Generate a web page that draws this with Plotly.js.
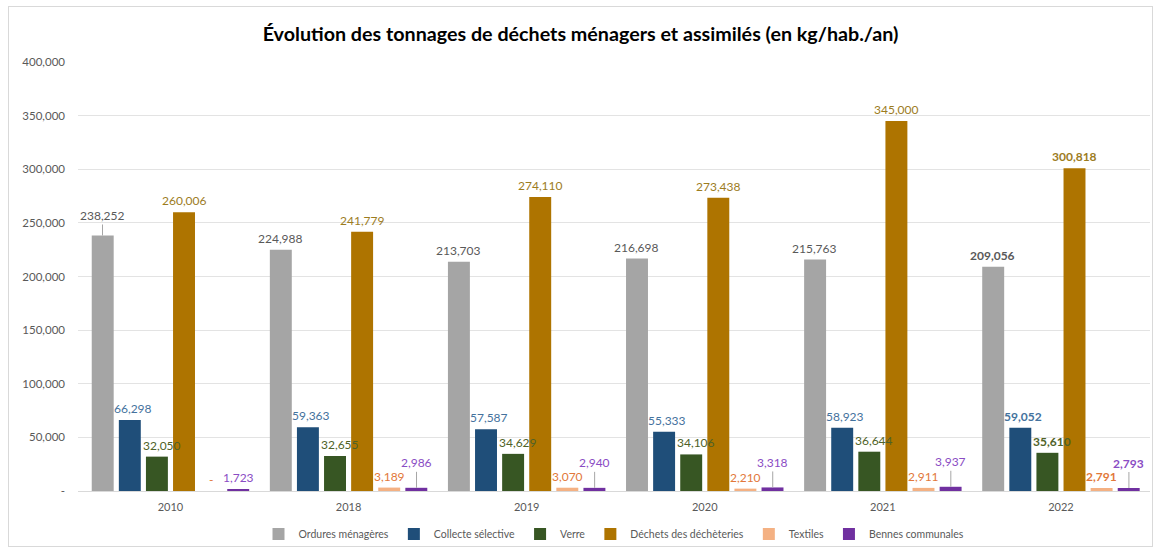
<!DOCTYPE html>
<html lang="fr">
<head>
    <meta charset="UTF-8">
    <title>Évolution des tonnages de déchets ménagers et assimilés</title>
    <script src="https://cdn.plot.ly/plotly-3.0.1.min.js"></script>
    <style>
        body { margin: 0; background: #ffffff; }
        #cadre {
            position: absolute;
            left: 8px;
            top: 6px;
            width: 1143px;
            height: 539px;
            border: 1px solid #d9d9d9;
        }
        #graph { width: 1143px; height: 539px; }
    </style>
</head>
<body>
    <div id="cadre"><div id="graph"></div></div>

    <script>
        // Données
        const annees = ['2010', '2018', '2019', '2020', '2021', '2022'];
        const ordures = [238252, 224988, 213703, 216698, 215763, 209056];
        const collecte = [66298, 59363, 57587, 55333, 58923, 59052];
        const verre = [32050, 32655, 34629, 34106, 36644, 35610];
        const decheteries = [260006, 241779, 274110, 273438, 345000, 300818];
        const textiles = [0, 3189, 3070, 2210, 2911, 2791];
        const bennes = [1723, 2986, 2940, 3318, 3937, 2793];

        const nomsSeries = ['Ordures ménagères', 'Collecte sélective', 'Verre',
            'Déchets des déchèteries', 'Textiles', 'Bennes communales'];
        const valeursSeries = [ordures, collecte, verre, decheteries, textiles, bennes];
        const couleursBarres = ['#a5a5a5', '#1f4e79', '#375623', '#ae7400', '#f4b183', '#7030a0'];
        const couleursEtiquettes = ['#595959', '#44729d', '#4f6228', '#9c7c1e', '#e2783a', '#8a4cc4'];

        const yTicks = [0, 50000, 100000, 150000, 200000, 250000, 300000, 350000, 400000];
        const yTickText = ['-', '50,000', '100,000', '150,000', '200,000', '250,000', '300,000', '350,000', '400,000'];

        const police = 'Lato, "Open Sans", sans-serif';
        const largeur = 1143, hauteur = 539;
        const marge = { l: 69, r: 2, t: 55, b: 55 };
        const bargap = 0.087;

        const traces = nomsSeries.map((nom, i) => ({
            type: 'bar',
            name: nom,
            x: annees,
            y: valeursSeries[i],
            marker: { color: couleursBarres[i] },
            hoverinfo: 'x+y+name'
        }));

        // décalage horizontal de chaque série dans un groupe (en pixels)
        const largeurCat = (largeur - marge.l - marge.r) / annees.length;
        const pas = largeurCat * (1 - bargap) / nomsSeries.length;

        const annotations = [];
        valeursSeries.forEach((vals, i) => {
            vals.forEach((v, j) => {
                let txt = v === 0 ? '-' : v.toLocaleString('en-US');
                if (j === annees.length - 1) txt = '<b>' + txt + '</b>';
                const avecRepere = (i === 5 && j > 0) || (i === 0 && j === 0);
                const dx = i === 2 ? 5 : (i === 1 ? 3 : 0);
                const a = {
                    x: j,   // indice de catégorie
                    y: v,
                    text: txt,
                    xshift: (i - 2.5) * pas + dx,
                    font: { family: police, size: 12, color: couleursEtiquettes[i] }
                };
                if (avecRepere) {
                    Object.assign(a, {
                        showarrow: true, arrowhead: 0, arrowwidth: 1,
                        arrowcolor: '#a6a6a6', ax: 0, ay: i === 0 ? -20 : -25
                    });
                } else {
                    Object.assign(a, { showarrow: false, yanchor: 'bottom', yshift: 2 });
                }
                annotations.push(a);
            });
        });

        const layout = {
            width: largeur,
            height: hauteur,
            margin: marge,
            paper_bgcolor: '#ffffff',
            plot_bgcolor: '#ffffff',
            font: { family: police, color: '#595959', size: 11 },
            title: {
                text: '<b>Évolution des tonnages de déchets ménagers et assimilés (en kg/hab./an)</b>',
                font: { family: police, size: 19.7, color: '#000000' },
                x: 0.5,
                xanchor: 'center',
                yref: 'container',
                y: 1 - 27 / hauteur,
                yanchor: 'middle'
            },
            barmode: 'group',
            bargap: bargap,
            bargroupgap: 0.19,
            xaxis: {
                type: 'category',
                showgrid: false,
                showline: true,
                linecolor: '#d9d9d9',
                ticks: '',
                ticklabelstandoff: 6,
                tickfont: { size: 11, color: '#595959' }
            },
            yaxis: {
                range: [0, 400000],
                tickvals: yTicks,
                ticktext: yTickText,
                gridcolor: '#e3e3e3',
                zeroline: false,
                ticklabelstandoff: 12,
                tickfont: { size: 11.5, color: '#595959' }
            },
            showlegend: true,
            legend: {
                orientation: 'h',
                x: 0.5,
                xanchor: 'center',
                yref: 'container',
                y: 12 / hauteur,
                yanchor: 'middle',
                font: { size: 10.5, color: '#595959' }
            },
            annotations: annotations
        };

        Plotly.newPlot('graph', traces, layout, { displayModeBar: false });
    </script>
</body>
</html>
